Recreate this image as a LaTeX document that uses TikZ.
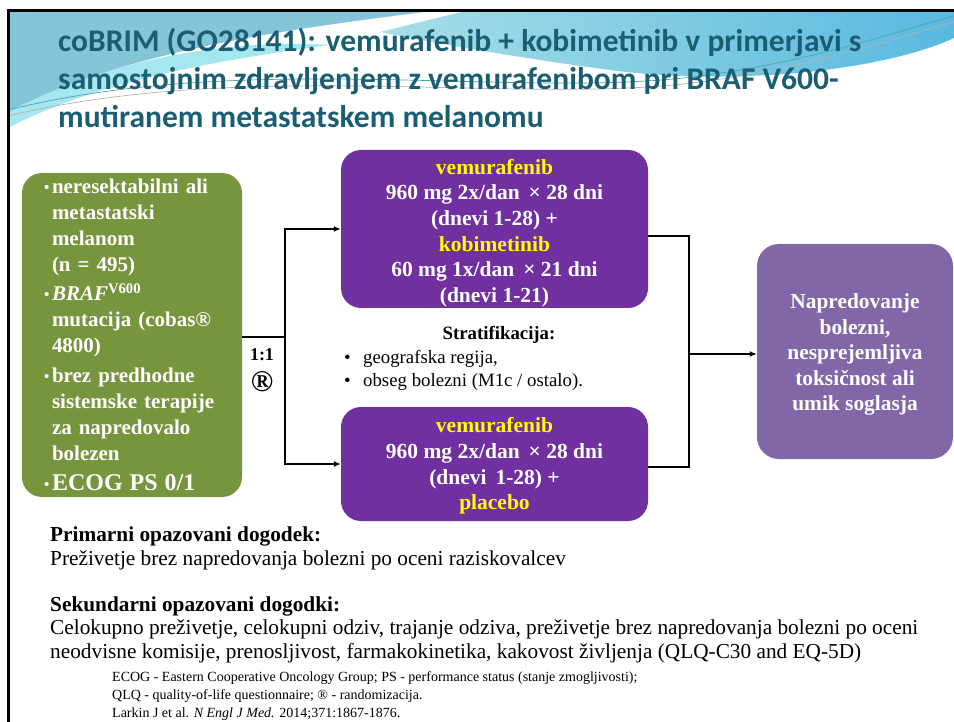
\documentclass[tikz,border=0pt]{standalone}
\usepackage{fontspec}
\setmainfont{Liberation Serif}
\newfontfamily\titlefont{Carlito}
\usepackage{tikz}
\usetikzlibrary{arrows.meta,positioning}
\tikzset{>={Latex[width=6pt,length=7pt]}}

\definecolor{titleteal}{RGB}{26,94,115}
\definecolor{armgreen}{RGB}{119,149,60}
\definecolor{armpurple}{RGB}{112,48,160}
\definecolor{endpurple}{RGB}{130,103,168}
\definecolor{armyellow}{RGB}{255,255,0}
\definecolor{swooshA}{RGB}{134,197,216}
\definecolor{swooshB}{RGB}{168,222,230}
\definecolor{swooshC}{RGB}{88,185,224}
\definecolor{swooshD}{RGB}{128,221,232}

\tikzset{
  boxshape/.style={rectangle, rounded corners=20pt, inner sep=0pt},
  armbox/.style={boxshape, fill=armpurple, minimum width=307pt},
  armtext/.style={text=white, align=center, inner sep=0pt,
    font=\bfseries\fontsize{21.5}{25.7}\selectfont},
  patbox/.style={boxshape, fill=armgreen, text=white,
    font=\bfseries\fontsize{21}{26}\selectfont, align=left,
    minimum width=220pt, minimum height=324pt, text width=176pt},
  endbox/.style={boxshape, rounded corners=22pt, fill=endpurple,
    minimum width=196pt, minimum height=215pt},
  flow/.style={line width=1.6pt},
  bodytext/.style={inner sep=0pt, anchor=base west, align=left,
    font=\fontsize{21.3}{23.5}\selectfont},
  smalltext/.style={inner sep=0pt, anchor=base west, align=left,
    font=\fontsize{14}{18}\selectfont}
}

\newcommand\gbul{\makebox[8pt][l]{\raisebox{1pt}{\fontsize{15}{15}\selectfont\textbullet}}}
\newcommand\gpad{\hspace*{8pt}}

\begin{document}
\begin{tikzpicture}[x=1pt, y=-1pt]
  \useasboundingbox (0,0) rectangle (954,722);

  %% background swoosh
  \fill[swooshA] (8,10) -- (440,10) .. controls (300,28) and (130,48) .. (8,112) -- cycle;
  \fill[swooshD, opacity=0.7] (8,112) .. controls (130,48) and (260,40) .. (330,45)
    .. controls (220,60) and (100,80) .. (8,128) -- cycle;
  \shade[left color=swooshB, right color=swooshC]
    (380,32) .. controls (420,22) .. (470,10) -- (954,10) -- (954,38)
    .. controls (880,72) and (730,86) .. (610,70)
    .. controls (520,58) and (440,44) .. (380,32) -- cycle;
  \draw[teal!70, line width=0.7pt]
    (8,110) .. controls (250,50) and (520,100) .. (700,76) .. controls (820,60) and (900,30) .. (954,16);
  \draw[gray!60, line width=0.7pt]
    (8,116) .. controls (250,58) and (520,106) .. (700,82) .. controls (820,66) and (900,36) .. (954,22);
  \draw[black, line width=2.5pt] (8.5,722) -- (8.5,10.5) -- (954,10.5);

  %% title
  \node[anchor=base west, inner sep=0pt, align=left, text=titleteal,
        font=\titlefont\bfseries\fontsize{31.5}{38}\selectfont] (title) at (58,128)
    {coBRIM (GO28141): vemurafenib + kobimetinib v primerjavi s\\
     samostojnim zdravljenjem z vemurafenibom pri BRAF V600-\\
     mutiranem metastatskem melanomu};

  %% boxes
  \node[patbox] (patients) at (132,335) {%
    \gbul neresektabilni ali\\
    \gpad metastatski\\
    \gpad melanom\\
    \gpad (n = 495)\\[3pt]
    \gbul \textit{BRAF}\textsuperscript{V600}\\
    \gpad mutacija (cobas®\\
    \gpad 4800)\\[4pt]
    \gbul brez predhodne\\
    \gpad sistemske terapije\\
    \gpad za napredovalo\\
    \gpad bolezen\\[4pt]
    \gbul {\fontsize{24}{26}\selectfont ECOG PS 0/1}};

  \node[armbox, minimum height=158pt] (combo) at (494.5,229) {};
  \node[armtext] (combotext) at ([yshift=-4pt]combo.center) {%
    \textcolor{armyellow}{vemurafenib}\\
    960 mg 2x/dan \,× 28 dni\\
    (dnevi 1-28) +\\
    \textcolor{armyellow}{kobimetinib}\\
    60 mg 1x/dan \,× 21 dni\\
    (dnevi 1-21)};

  \node[armbox, minimum height=114pt] (mono) at (494.5,464) {};
  \node[armtext] (monotext) at ([yshift=-2pt]mono.center) {%
    \textcolor{armyellow}{vemurafenib}\\
    960 mg 2x/dan \,× 28 dni\\
    (dnevi \,1-28) +\\
    \textcolor{armyellow}{placebo}};

  \node[endbox] (stop) at (855,351.5) {};
  \node[armtext, font=\bfseries\fontsize{21.4}{25.5}\selectfont] (stoptext)
    at ([yshift=-3pt]stop.center) {%
    Napredovanje\\ bolezni,\\ nesprejemljiva\\ toksičnost ali\\ umik soglasja};

  %% randomisation
  \coordinate (split) at (285,337);
  \coordinate (join) at (689,354);
  \draw[flow] ([yshift=-2pt]patients.east) -- (split);
  \draw[flow,->] (split) |- (combo.west);
  \draw[flow,->] (split) |- (mono.west);
  \draw[flow] ([yshift=-7pt]combo.east) -| (join);
  \draw[flow] ([yshift=-3pt]mono.east) -| (join);
  \draw[flow,->] (join) -- (join -| stop.west);

  \node[font=\bfseries\fontsize{18}{18}\selectfont] (ratio) at (262,355) {1:1};
  \node[font=\bfseries\fontsize{30}{30}\selectfont] (rand) at (262,382) {®};

  %% stratification
  \node[font=\bfseries\fontsize{18.8}{18.8}\selectfont] (strat) at (499,335) {Stratifikacija:};
  \node[anchor=west, inner sep=0pt, align=left, font=\fontsize{18.8}{23}\selectfont]
    (stratlist) at (344,370)
    {\makebox[19pt][l]{\textbullet}geografska regija,\\
     \makebox[19pt][l]{\textbullet}obseg bolezni (M1c / ostalo).};

  %% endpoints
  \node[bodytext] (primary) at (50,565)
    {\textbf{Primarni opazovani dogodek:}\\
     Preživetje brez napredovanja bolezni po oceni raziskovalcev};
  \node[bodytext] (secondary) at (50,658)
    {\textbf{Sekundarni opazovani dogodki:}\\
     Celokupno preživetje, celokupni odziv, trajanje odziva, preživetje brez napredovanja bolezni po oceni\\
     neodvisne komisije, prenosljivost, farmakokinetika, kakovost življenja (QLQ-C30 and EQ-5D)};

  %% footnote
  \node[smalltext] (notes) at (112,717)
    {ECOG - Eastern Cooperative Oncology Group; PS - performance status (stanje zmogljivosti);\\
     QLQ - quality-of-life questionnaire; ® - randomizacija.\\
     Larkin J et al. \textit{N Engl J Med.} 2014;371:1867-1876.};
\end{tikzpicture}
\end{document}
